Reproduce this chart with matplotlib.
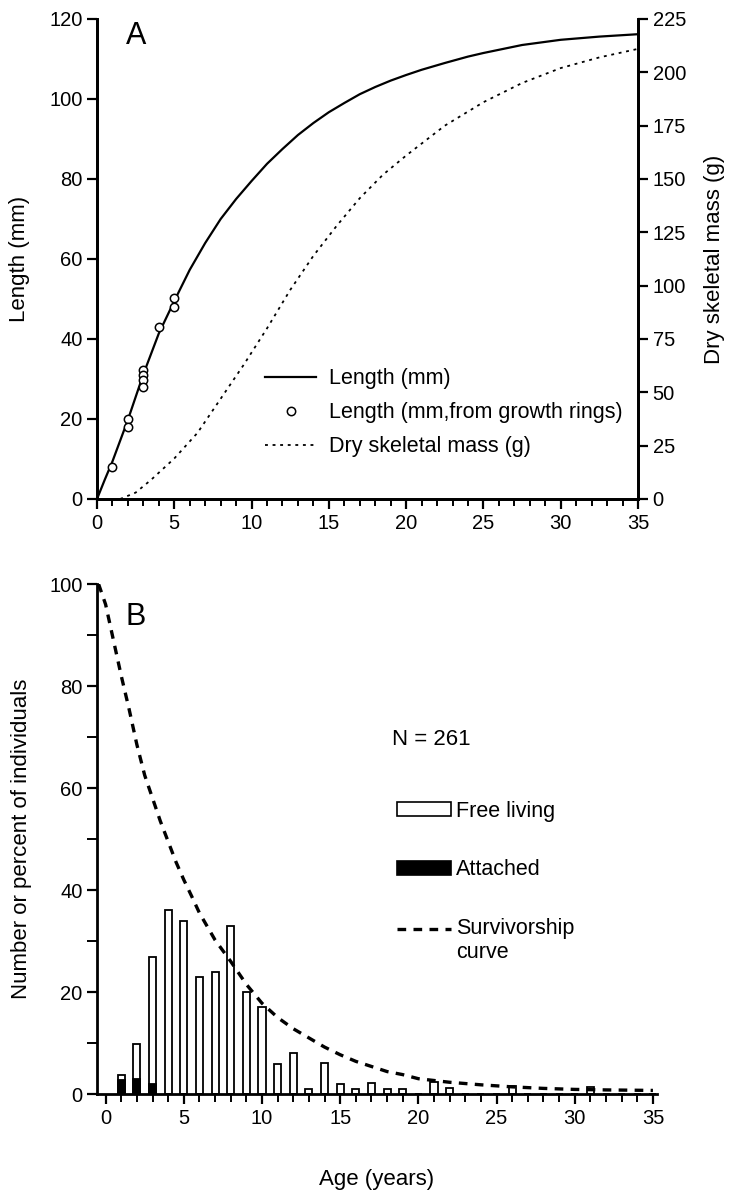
import matplotlib
matplotlib.use("Agg")
from matplotlib import pyplot
from matplotlib.lines import Line2D
from matplotlib.patches import Patch
from matplotlib.legend_handler import HandlerLine2D
import matplotlib.ticker as ticker

# panel A: growth
len_age = [0, 0.5, 1, 2, 3, 4, 5, 6, 7, 8, 9, 10, 11, 12, 13, 14, 15, 16, 17, 18, 19, 20, 21,
           22.5, 24, 25, 27.5, 30, 32.5, 35]
len_mm = [0, 4.8, 9.4, 19.8, 31.2, 41.4, 49.5, 57.3, 64, 70, 75, 79.5, 83.8, 87.5, 91, 94, 96.7,
          99, 101.2, 103, 104.6, 106, 107.3, 109, 110.6, 111.5, 113.5, 114.8, 115.6, 116.2]

ring_age = [1, 2, 2, 3, 3, 3, 3, 4, 5, 5]
ring_len = [7.9, 20, 17.9, 32.3, 31, 29.7, 28.1, 43.1, 50.2, 48.1]

mass_age = [1.5, 2.5, 3.5, 5, 6.5, 8, 9.5, 11, 12.5, 14, 15.5, 17, 18.5, 20, 22.5, 25, 27.5, 30, 32.5, 35]
mass_g = [0, 3, 9, 19, 31, 47, 63, 80, 98, 114, 128, 141, 152, 161, 175, 186, 195, 202, 207, 211]

# panel B: age frequency
bar_age = list(range(1, 36))
free_living = [3.8, 9.8, 26.8, 36, 34, 23, 24, 33, 20, 17, 5.8, 8, 0.9, 6, 2, 1, 2.2, 1, 1, 0,
               2.3, 1.1, 0, 0, 0, 1.5, 0, 0, 0, 0, 1.3, 0, 0, 0, 0]
attached = [2.8, 3, 2] + [0] * 32

surv_age = [-0.45, 0, 0.5, 1, 1.5, 2, 2.5, 3, 3.5, 4, 4.5, 5, 5.5, 6, 7, 8, 9, 10, 11, 12, 13, 14,
            15, 16, 17, 18, 19, 20, 22, 24, 26, 28, 30, 32, 35]
surv_pct = [100, 96, 89, 82, 75.5, 68.5, 62.5, 58, 53.5, 49.5, 45.5, 42, 38.8, 35.5, 30.2, 26, 21.5,
            17.8, 15, 12.8, 11, 9.2, 7.7, 6.4, 5.4, 4.4, 3.8, 3, 2.3, 1.8, 1.4, 1.1, 0.9, 0.8, 0.7]


class FirstLineHandler(HandlerLine2D):
    # put the legend line next to the first line of a two-line label
    def create_artists(self, legend, orig_handle, xdescent, ydescent, width, height, fontsize, trans):
        arts = super().create_artists(legend, orig_handle, xdescent, ydescent, width, height, fontsize, trans)
        for a in arts:
            a.set_ydata([v + 0.6 * fontsize for v in a.get_ydata()])
        return arts


pyplot.rcParams['font.family'] = ['Liberation Sans', 'DejaVu Sans']

fig = pyplot.figure(figsize=(7.35, 11.91), dpi=100, facecolor='w')
W, H = 735, 1191

# ---- panel A
ax = fig.add_axes([97 / W, 1 - 499 / H, 541 / W, 480 / H])
ax2 = ax.twinx()
ax.set_xlim(0, 35)
ax.set_ylim(0, 120)
ax2.set_ylim(0, 225)
ax.set_xticks(range(0, 36, 5))
ax.xaxis.set_minor_locator(ticker.MultipleLocator(1))
ax.set_yticks(range(0, 121, 20))
ax2.set_yticks(range(0, 226, 25))
for a in (ax, ax2):
    a.spines['top'].set_visible(False)
    for s in a.spines.values():
        s.set_linewidth(2)
    a.tick_params(which='major', direction='out', length=7, width=1.6, labelsize=14.5)
    a.tick_params(which='minor', direction='out', length=5, width=1.4)
ax.set_ylabel("Length (mm)", fontsize=16, labelpad=14)
ax2.set_ylabel("Dry skeletal mass (g)", fontsize=16, labelpad=13)

ax.plot(len_age, len_mm, color='k', lw=1.6, solid_capstyle='butt')
ax.plot(ring_age, ring_len, 'o', ms=6, mfc='w', mec='k', mew=1.1, clip_on=False)
ax2.plot(mass_age, mass_g, color='k', lw=1.3, dashes=(1.6, 2.6))
ax.text(0.054, 0.995, "A", transform=ax.transAxes, fontsize=22, va='top', ha='left')

handles_a = [Line2D([], [], color='k', lw=1.6),
             Line2D([], [], ls='', marker='o', ms=6, mfc='w', mec='k', mew=1.1),
             Line2D([], [], color='k', lw=1.3, dashes=(1.6, 2.6))]
ax2.legend(handles_a, ["Length (mm)", "Length (mm,from growth rings)", "Dry skeletal mass (g)"],
           loc='upper left', bbox_to_anchor=(0.31, 0.272), frameon=False, fontsize=15.5,
           handlelength=2.4, handletextpad=0.6, labelspacing=0.6, borderpad=0, borderaxespad=0,
           numpoints=1)

# ---- panel B
bx = fig.add_axes([97 / W, 1 - 1094 / H, 560 / W, 510 / H])
bx.set_xlim(-0.55, 35.26)
bx.set_ylim(0, 100)
bx.set_xticks(range(0, 36, 5))
bx.xaxis.set_minor_locator(ticker.MultipleLocator(1))
bx.set_yticks(range(0, 101, 20))
bx.yaxis.set_minor_locator(ticker.MultipleLocator(10))
bx.spines['top'].set_visible(False)
bx.spines['right'].set_visible(False)
for s in bx.spines.values():
    s.set_linewidth(2)
bx.tick_params(which='major', direction='out', length=7, width=1.6, labelsize=14.5)
bx.tick_params(which='minor', direction='out', length=6, width=1.4)
bx.tick_params(axis='y', which='minor', length=7)

bx.bar(bar_age, free_living, width=0.45, color='w', edgecolor='k', lw=1.3)
bx.bar(bar_age, attached, width=0.45, color='k', edgecolor='k', lw=1.3)
bx.plot(surv_age, surv_pct, color='k', lw=2.4, dashes=(2.6, 2.2))
bx.text(0.05, 0.965, "B", transform=bx.transAxes, fontsize=22, va='top', ha='left')
bx.text(18.3, 69.6, "N = 261", fontsize=16, va='center', ha='left')

bx.set_xlabel("Age (years)", fontsize=16, labelpad=30)
bx.set_ylabel("Number or percent of individuals", fontsize=16, labelpad=12)

surv_handle = Line2D([], [], color='k', lw=2.4, dashes=(2.6, 2.2))
handles_b = [Patch(facecolor='w', edgecolor='k', lw=1.2),
             Patch(facecolor='k', edgecolor='k', lw=1.2),
             surv_handle]
bx.legend(handles_b, ["Free living", "Attached", "Survivorship\ncurve"],
          loc='upper left', bbox_to_anchor=(0.536, 0.575), frameon=False, fontsize=15.5,
          handlelength=2.5, handleheight=0.6, handletextpad=0.25, labelspacing=1.75,
          borderpad=0, borderaxespad=0, handler_map={surv_handle: FirstLineHandler()})

pyplot.savefig("out.png", dpi=100, facecolor='w')
